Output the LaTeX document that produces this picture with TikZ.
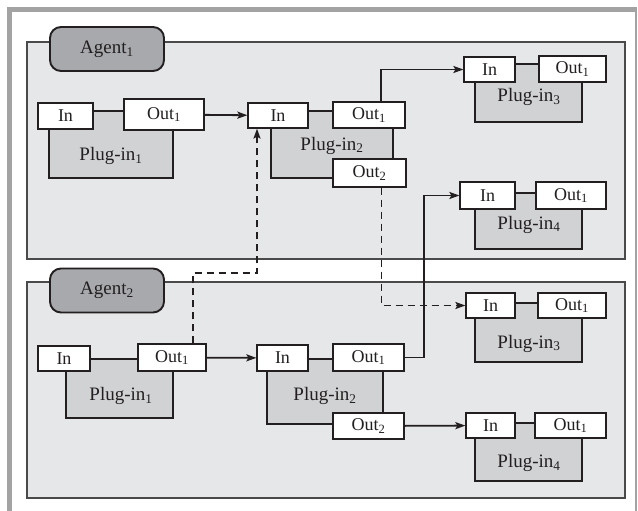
\documentclass[tikz,border=0pt]{standalone}
\usepackage{fontspec}
\setmainfont{Liberation Serif}
\usetikzlibrary{
  arrows.meta,
  positioning,
  calc,
}
\definecolor{ink}{HTML}{231F20}
\definecolor{framegray}{HTML}{A3A3A3}
\definecolor{panelbg}{HTML}{E6E7E8}
\definecolor{bodybg}{HTML}{D1D2D4}
\definecolor{tagbg}{HTML}{A7A9AC}
\definecolor{edge}{HTML}{4A4A4A}
\tikzset{
  >={Stealth[length=10pt,width=7pt,inset=2pt]},
  every node/.append style={text=ink},
  panel/.style={draw=edge, fill=panelbg, line width=1.6pt},
  tag/.style={
    draw=ink,
    fill=tagbg,
    line width=1.9pt,
    rounded corners=11pt,
    minimum width=114pt,
    minimum height=44pt,
    font=\fontsize{19}{21}\selectfont,
  },
  body/.style 2 args={
    draw=ink,
    fill=bodybg,
    line width=1.2pt,
    inner sep=0pt,
    minimum width=#1,
    minimum height=#2,
  },
  port/.style 2 args={
    draw=ink,
    fill=white,
    line width=1.2pt,
    inner sep=0pt,
    minimum width=#1,
    minimum height=#2,
    font=\fontsize{18}{20}\selectfont,
  },
  plugname/.style={font=\fontsize{19}{21}\selectfont, inner sep=0pt, anchor=base},
  wire/.style={ink, line width=1.8pt, ->},
  link/.style={wire, dash pattern=on 7pt off 5pt},
}

\begin{document}
\begin{tikzpicture}[x=1pt,y=-1pt]
  \useasboundingbox (0,0) rectangle (638,511);
  \fill[framegray] (7,7) rectangle (637,511);
  \fill[white] (12,12) rectangle (634.5,511);

  % Agent 1
  \draw[panel] (27,42) rectangle (625,259);
  \node[tag] (agent1) at (107,49) {Agent\textsubscript{1}};

  \node[body={124}{67}] (a1p1) at (111,144.5) {};
  \node[port={55}{26}] (a1p1in) at (65.5,116) {In};
  \node[port={80}{31}] (a1p1o1) at (164,114.5) {Out\textsubscript{1}};
  \node[plugname] (a1p1name) at (111,160.5) {Plug-in\textsubscript{1}};

  \node[body={122}{67}] (a1p2) at (332,144.5) {};
  \node[port={60}{25}] (a1p2in) at (278,115.5) {In};
  \node[port={72}{26}] (a1p2o1) at (369,115) {Out\textsubscript{1}};
  \node[port={73}{28}] (a1p2o2) at (369.5,173) {Out\textsubscript{2}};
  \node[plugname] (a1p2name) at (332,150) {Plug-in\textsubscript{2}};

  \node[body={107}{58}] (a1p3) at (528.5,93) {};
  \node[port={51}{25}] (a1p3in) at (489.5,69.5) {In};
  \node[port={67}{26}] (a1p3o1) at (572.5,69) {Out\textsubscript{1}};
  \node[plugname] (a1p3name) at (529,102) {Plug-in\textsubscript{3}};

  \node[body={107}{56}] (a1p4) at (528.5,221) {};
  \node[port={55}{27}] (a1p4in) at (487.5,195.5) {In};
  \node[port={70}{27}] (a1p4o1) at (571,195.5) {Out\textsubscript{1}};
  \node[plugname] (a1p4name) at (529,229) {Plug-in\textsubscript{4}};

  % Agent 2
  \draw[panel] (27,282) rectangle (625,498);
  \node[tag] (agent2) at (107,290.5) {Agent\textsubscript{2}};

  \node[body={107}{59}] (a2p1) at (119.5,388.5) {};
  \node[port={52}{25}] (a2p1in) at (64,358.5) {In};
  \node[port={68}{27}] (a2p1o1) at (172,357.5) {Out\textsubscript{1}};
  \node[plugname] (a2p1name) at (121,400.5) {Plug-in\textsubscript{1}};

  \node[body={116}{65}] (a2p2) at (325,391.5) {};
  \node[port={51}{26}] (a2p2in) at (282.5,358) {In};
  \node[port={71}{27}] (a2p2o1) at (368.5,357.5) {Out\textsubscript{1}};
  \node[port={71}{26}] (a2p2o2) at (368.5,426) {Out\textsubscript{2}};
  \node[plugname] (a2p2name) at (325,400.5) {Plug-in\textsubscript{2}};

  \node[body={107}{59}] (a2p3) at (528.5,332.5) {};
  \node[port={49}{25}] (a2p3in) at (490.5,305.5) {In};
  \node[port={68}{25}] (a2p3o1) at (572,305.5) {Out\textsubscript{1}};
  \node[plugname] (a2p3name) at (529,348) {Plug-in\textsubscript{3}};

  \node[body={107}{58}] (a2p4) at (528.5,452) {};
  \node[port={49}{25}] (a2p4in) at (490.5,425.5) {In};
  \node[port={71}{25}] (a2p4o1) at (570.5,425.5) {Out\textsubscript{1}};
  \node[plugname] (a2p4name) at (529,467.5) {Plug-in\textsubscript{4}};

  % links inside the agents
  \draw[wire] (a1p1o1) -- (a1p2in);
  \draw[wire] ([xshift=12pt]a1p2o1.north) |- (a1p3in.west);
  \draw[wire] (a2p1o1) -- (a2p2in);
  \draw[wire] (a2p2o2) -- (a2p4in);

  % links across the agents
  \draw[wire] (a2p2o1.east) -- ++(19,0) |- (a1p4in.west);
  \draw[link] ([xshift=12pt]a1p2o2.south) |- (a2p3in.west);
  \coordinate (bend) at (257,273);
  \draw[link] ([xshift=21pt]a2p1o1.north) |- (bend) -- ([xshift=-21pt]a1p2in.south);
\end{tikzpicture}
\end{document}
